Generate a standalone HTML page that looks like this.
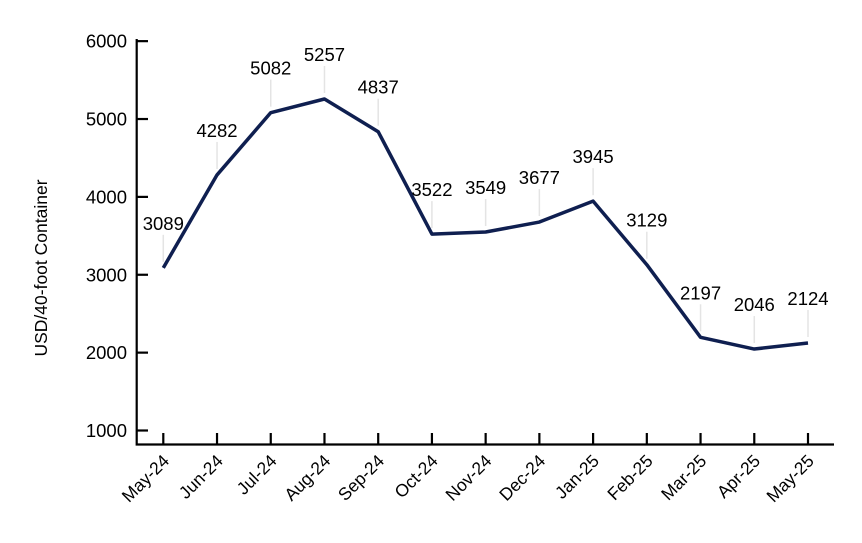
<!DOCTYPE html>
<html><head><meta charset="utf-8"><style>
body{margin:0;background:#fff;}
svg{font-family:"Liberation Sans",sans-serif;}
</style></head><body>
<svg width="862" height="538" viewBox="0 0 862 538">
<g id="axes"></g>
<g id="marks"></g>
</svg>
<script>
const categories=["May-24","Jun-24","Jul-24","Aug-24","Sep-24","Oct-24","Nov-24","Dec-24","Jan-25","Feb-25","Mar-25","Apr-25","May-25"];
const values=[3089,4282,5082,5257,4837,3522,3549,3677,3945,3129,2197,2046,2124];
const yTicks=[1000,2000,3000,4000,5000,6000];
const NS="http://www.w3.org/2000/svg";
const x0=163.3, dx=(808-163.3)/12;
function xs(i){return x0+i*dx;}
function ys(v){return 430.5-(v-1000)*0.07787;}
const axes=document.getElementById('axes'), marks=document.getElementById('marks');
function mk(tag,attrs,parent,text){const e=document.createElementNS(NS,tag);for(const k in attrs)e.setAttribute(k,attrs[k]);if(text!==undefined)e.textContent=text;parent.appendChild(e);return e;}
let a=mk('path',{d:'M136.7 39 V444.5 H834',fill:'none',stroke:'#000','stroke-width':2.2},axes);


yTicks.forEach(v=>{
 const y=ys(v);
 let t=mk('line',{x1:136.7,x2:148,y1:y,y2:y,stroke:'#000','stroke-width':2.2},axes);
 
 
 let l=mk('text',{x:127,y:y+6.5,'text-anchor':'end','font-size':18.5,fill:'#000'},axes,v);
 
 
});
let yt=mk('text',{transform:'translate(47,268) rotate(-90)','text-anchor':'middle','font-size':17.5,fill:'#000'},axes,'USD/40-foot Container');


categories.forEach((c,i)=>{
 const x=xs(i);
 let t=mk('line',{x1:x,x2:x,y1:433,y2:444.5,stroke:'#000','stroke-width':2.2},axes);
 
 
 let l=mk('text',{transform:`translate(${x+7},${462}) rotate(-45)`,'text-anchor':'end','font-size':17.5,fill:'#000'},axes,c);
 
 
});
values.forEach((v,i)=>{
 const x=xs(i),y=ys(v);
 let ld=mk('line',{x1:x,x2:x,y1:y-33,y2:y-6,stroke:'#e4e4e4','stroke-width':1.5},marks);
 
 
});
let p=mk('polyline',{points:values.map((v,i)=>xs(i)+','+ys(v)).join(' '),fill:'none',stroke:'#0f1f50','stroke-width':3.5,'stroke-linejoin':'round'},marks);


values.forEach((v,i)=>{
 const x=xs(i),y=ys(v);
 let l=mk('text',{x:x,y:y-38,'text-anchor':'middle','font-size':18.5,fill:'#000'},marks,v);
 
 
});
</script>
</body></html>
